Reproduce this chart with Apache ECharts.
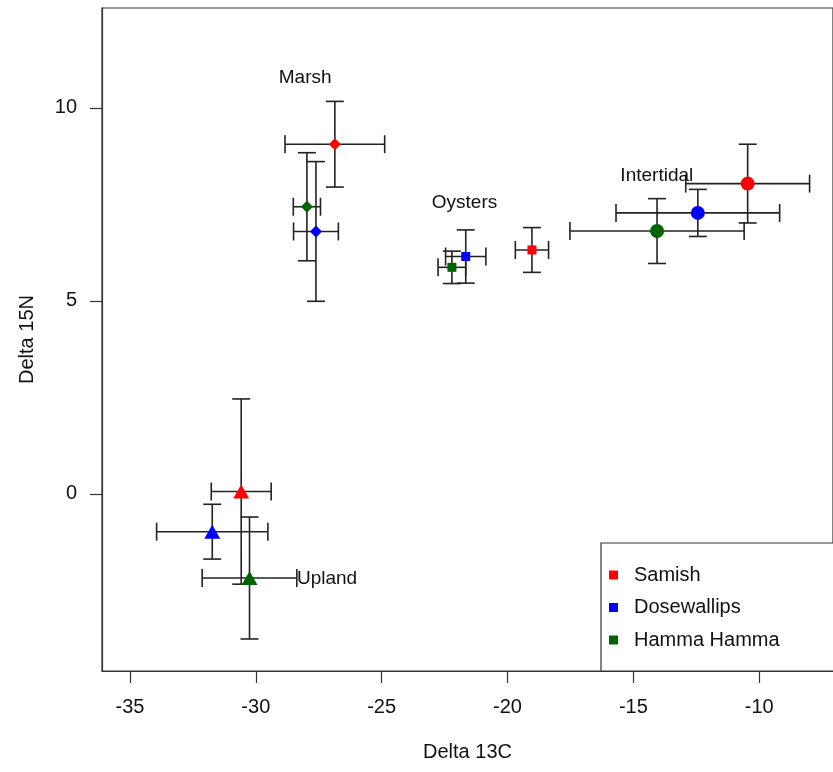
<!DOCTYPE html>
<html>
<head>
<meta charset="utf-8">
<script src="https://cdn.jsdelivr.net/npm/echarts@6.0.0/dist/echarts.min.js"></script>
<style>
html,body{margin:0;padding:0;background:#fff;}
#chart{width:833px;height:772px;}
</style>
</head>
<body>
<div id="chart"></div>
<script>
// ---------------- data ----------------
const sites = ['Samish', 'Dosewallips', 'Hamma Hamma'];
const habitats = ['Marsh', 'Oysters', 'Intertidal', 'Upland'];

const samishC13     = [-26.86, -19.03, -10.46, -30.58];
const samishN15     = [  9.06,   6.32,   8.04,   0.06];
const samishC13Err  = [  1.98,   0.66,   2.46,   1.19];
const samishN15Err  = [  1.11,   0.58,   1.02,   2.40];

const dosewallipsC13    = [-27.61, -21.66, -12.44, -31.73];
const dosewallipsN15    = [  6.80,   6.15,   7.28,  -0.98];
const dosewallipsC13Err = [  0.89,   0.80,   3.25,   2.21];
const dosewallipsN15Err = [  1.81,   0.69,   0.61,   0.71];

const hammaC13    = [-27.97, -22.21, -14.06, -30.25];
const hammaN15    = [  7.44,   5.87,   6.81,  -2.18];
const hammaC13Err = [  0.54,   0.55,   3.46,   1.88];
const hammaN15Err = [  1.40,   0.42,   0.84,   1.58];

const labelC13 = [-28.04, -21.71, -14.07, -27.17];
const labelN15 = [ 10.78,   7.54,   8.24,  -2.20];

const xTicks = [-35, -30, -25, -20, -15, -10];
const yTicks = [0, 5, 10];

// ---------------- styling ----------------
const siteColors = ['#ff0000', '#0000ff', '#006400'];
const habitatSymbols = ['diamond', 'rect', 'circle', 'triangle'];
const habitatSizes = [12, 9, 14, [16, 14]];
const FONT = '"Liberation Sans", Arial, sans-serif';
const TXT = '#111';

const siteData = [
  [samishC13, samishN15, samishC13Err, samishN15Err],
  [dosewallipsC13, dosewallipsN15, dosewallipsC13Err, dosewallipsN15Err],
  [hammaC13, hammaN15, hammaC13Err, hammaN15Err]
];

function errRender(params, api) {
  const x = api.value(0), y = api.value(1), xe = api.value(2), ye = api.value(3);
  const l = api.coord([x - xe, y]);
  const r = api.coord([x + xe, y]);
  const t = api.coord([x, y + ye]);
  const b = api.coord([x, y - ye]);
  const cap = 9;
  const st = {stroke: '#222', lineWidth: 1.6};
  const seg = (x1, y1, x2, y2) => ({type: 'line', shape: {x1, y1, x2, y2}, style: st});
  return {
    type: 'group',
    children: [
      seg(l[0], l[1], r[0], r[1]),
      seg(l[0], l[1] - cap, l[0], l[1] + cap),
      seg(r[0], r[1] - cap, r[0], r[1] + cap),
      seg(t[0], t[1], b[0], b[1]),
      seg(t[0] - cap, t[1], t[0] + cap, t[1]),
      seg(b[0] - cap, b[1], b[0] + cap, b[1])
    ]
  };
}

const series = [];
siteData.forEach((d, si) => {
  series.push({
    type: 'custom',
    name: 'err_' + si,
    renderItem: errRender,
    encode: {x: 0, y: 1},
    data: habitats.map((h, i) => [d[0][i], d[1][i], d[2][i], d[3][i]]),
    z: 2,
    silent: true
  });
});
siteData.forEach((d, si) => {
  series.push({
    type: 'scatter',
    name: sites[si],
    data: habitats.map((h, i) => [d[0][i], d[1][i]]),
    symbol: (v, p) => habitatSymbols[p.dataIndex],
    symbolSize: (v, p) => habitatSizes[p.dataIndex],
    itemStyle: {color: siteColors[si], opacity: 1},
    z: 5
  });
});
series.push({
  type: 'scatter',
  name: 'labels',
  data: habitats.map((h, i) => ({name: h, value: [labelC13[i], labelN15[i]]})),
  symbolSize: 0,
  silent: true,
  itemStyle: {opacity: 1, color: TXT},
  label: {
    show: true, position: 'inside', formatter: '{b}',
    fontFamily: FONT, fontSize: 19, color: TXT, opacity: 1
  },
  z: 6
});

const chart = echarts.init(document.getElementById('chart'), null, {renderer: 'canvas'});
chart.setOption({
  animation: false,
  backgroundColor: '#fff',
  grid: {
    left: 102, top: 8, width: 734, height: 663,
    show: true, borderColor: '#333', borderWidth: 1.2, containLabel: false
  },
  legend: {
    data: sites,
    orient: 'vertical',
    left: 601, top: 543,
    padding: [22, 130, 21, 8],
    itemGap: 12.5,
    itemWidth: 31, itemHeight: 9,
    icon: 'path://M0 0H10V10H0Z',
    borderColor: '#333', borderWidth: 1.2,
    backgroundColor: '#fff',
    textStyle: {fontFamily: FONT, fontSize: 20, color: TXT},
    selectedMode: false
  },
  xAxis: {
    type: 'value',
    min: -36.11, max: -7.07,
    name: 'Delta 13C',
    nameLocation: 'middle',
    nameGap: 71,
    nameTextStyle: {fontFamily: FONT, fontSize: 20, color: TXT},
    axisLine: {show: true, onZero: false, lineStyle: {color: '#333', width: 1.2}},
    axisTick: {show: true, length: 12, customValues: xTicks, lineStyle: {color: '#333', width: 1.2}},
    axisLabel: {customValues: xTicks, margin: 26, fontFamily: FONT, fontSize: 20, color: TXT},
    splitLine: {show: false}
  },
  yAxis: {
    type: 'value',
    min: -4.59, max: 12.59,
    name: 'Delta 15N',
    nameLocation: 'middle',
    nameRotate: 90,
    nameGap: 65,
    nameTextStyle: {fontFamily: FONT, fontSize: 20, color: TXT},
    axisLine: {show: true, onZero: false, lineStyle: {color: '#333', width: 1.2}},
    axisTick: {show: true, length: 12, customValues: yTicks, lineStyle: {color: '#333', width: 1.2}},
    axisLabel: {customValues: yTicks, margin: 25, fontFamily: FONT, fontSize: 20, color: TXT},
    splitLine: {show: false}
  },
  series: series
});
</script>
</body>
</html>
